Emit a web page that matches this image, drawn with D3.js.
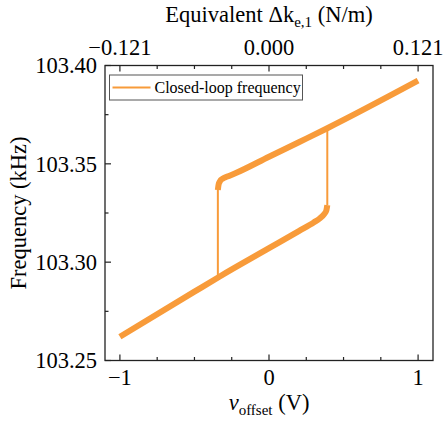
<!DOCTYPE html>
<html>
<head>
<meta charset="utf-8">
<script src="https://cdn.jsdelivr.net/npm/d3@7"></script>
<style>
  body { margin: 0; background: #fff; }
</style>
</head>
<body>
<script>
// sweep data: offset voltage (V) vs closed-loop frequency (kHz)
const lowerV = [-1, -0.5, -0.333, 0, 0.2, 0.3, 0.34, 0.37, 0.385, 0.391];
const lowerF = [103.2621, 103.2850, 103.2926, 103.3071, 103.3158, 103.3202, 103.3222, 103.3244, 103.3264, 103.3290];
const upperV = [-0.343, -0.338, -0.33, -0.31, -0.28, -0.226, 0, 0.2, 0.391, 1];
const upperF = [103.3367, 103.3395, 103.3410, 103.3425, 103.3435, 103.3452, 103.3536, 103.3610, 103.3681, 103.3923];
const jumpDownV = [-0.343, -0.343];
const jumpDownF = [103.3367, 103.2922];
const jumpUpV = [0.391, 0.391];
const jumpUpF = [103.3290, 103.3681];

const xTicks = [-1, 0, 1];
const yTicks = [103.25, 103.30, 103.35, 103.40];
const topTickLabels = ['\u22120.121', '0.000', '0.121'];
const seriesName = 'Closed-loop frequency';

const W = 443, H = 422;
const m = {left: 105, right: 10, top: 65.5, bottom: 61.5};
const color = '#f89b3a';
const serif = "'Liberation Serif', serif";
const fs = 22.5;

const svg = d3.select('body').append('svg')
  .attr('width', W).attr('height', H);

const x = d3.scaleLinear().domain([-1.1, 1.1]).range([m.left, W - m.right]);
const y = d3.scaleLinear().domain([103.25, 103.40]).range([H - m.bottom, m.top]);

const minorX = d3.range(-1, 1.001, 0.25);
const minorY = d3.range(103.25, 103.4001, 0.025);

const fmtY = d3.format('.2f');
const fmtX = v => v < 0 ? '\u2212' + Math.abs(v) : String(v);

const label = (sel, size) => sel.style('font-family', serif).attr('font-size', size).attr('fill', '#000');

// shift start-anchored text by its measured width (instead of text-anchor)
const align = (sel, how) => sel.each(function() {
  const w = this.getComputedTextLength();
  const x0 = +this.getAttribute('x');
  this.setAttribute('x', how === 'middle' ? x0 - w / 2 : x0 - w);
});

// frame
svg.append('rect')
  .attr('x', x.range()[0]).attr('y', y.range()[1])
  .attr('width', x.range()[1] - x.range()[0])
  .attr('height', y.range()[0] - y.range()[1])
  .attr('fill', 'none').attr('stroke', '#222').attr('stroke-width', 1.3);

const tickG = svg.append('g').attr('stroke', '#222').attr('stroke-width', 1.2);

// bottom + top ticks (inward)
minorX.forEach(v => {
  const major = xTicks.includes(+v.toFixed(2));
  const len = major ? 6 : 3.5;
  tickG.append('line').attr('x1', x(v)).attr('x2', x(v))
    .attr('y1', y.range()[0]).attr('y2', y.range()[0] - len);
  tickG.append('line').attr('x1', x(v)).attr('x2', x(v))
    .attr('y1', y.range()[1]).attr('y2', y.range()[1] + len);
});

// left ticks (inward)
minorY.forEach(v => {
  const major = yTicks.some(t => Math.abs(t - v) < 1e-6);
  const len = major ? 6 : 3.5;
  tickG.append('line').attr('x1', x.range()[0]).attr('x2', x.range()[0] + len)
    .attr('y1', y(v)).attr('y2', y(v));
});

// tick labels
svg.append('g').selectAll('text').data(xTicks).enter().append('text')
  .call(label, fs)
  .attr('x', d => x(d)).attr('y', H - m.bottom + 24)
  .text(fmtX)
  .call(align, 'middle');

svg.append('g').selectAll('text').data(xTicks).enter().append('text')
  .call(label, fs)
  .attr('x', d => x(d)).attr('y', m.top - 10.5)
  .text((d, i) => topTickLabels[i])
  .call(align, 'middle');

svg.append('g').selectAll('text').data(yTicks).enter().append('text')
  .call(label, fs)
  .attr('x', m.left - 8).attr('y', d => y(d)).attr('dy', '0.35em')
  .text(fmtY)
  .call(align, 'end');

// axis titles
const cx = (x.range()[0] + x.range()[1]) / 2;
const cy = (y.range()[0] + y.range()[1]) / 2;

const xt = svg.append('text').call(label, fs).attr('x', cx).attr('y', 410);
xt.append('tspan').attr('font-style', 'italic').text('v');
xt.append('tspan').attr('font-size', 15).attr('dy', 5).text('offset');
xt.append('tspan').attr('dy', -5).text(' (V)');
xt.call(align, 'middle');

const tt = svg.append('text').call(label, fs).attr('x', cx).attr('y', 22);
tt.append('tspan').text('Equivalent \u0394k');
tt.append('tspan').attr('font-size', 15).attr('dy', 5).text('e,1');
tt.append('tspan').attr('dy', -5).text(' (N/m)');
tt.call(align, 'middle');

svg.append('text').call(label, fs)
  .attr('transform', `translate(26,${cy}) rotate(-90)`)
  .attr('x', 0).attr('y', 0)
  .text('Frequency (kHz)')
  .call(align, 'middle');

// curves
const zip = (vs, fv) => vs.map((v, i) => [v, fv[i]]);
const branch = d3.line().x(d => x(d[0])).y(d => y(d[1])).curve(d3.curveMonotoneX);
const straight = d3.line().x(d => x(d[0])).y(d => y(d[1]));

const plotG = svg.append('g').attr('fill', 'none').attr('stroke', color)
  .attr('stroke-linejoin', 'round');

plotG.append('path').attr('d', straight(zip(jumpDownV, jumpDownF))).attr('stroke-width', 2);
plotG.append('path').attr('d', straight(zip(jumpUpV, jumpUpF))).attr('stroke-width', 2);
plotG.append('path').attr('d', branch(zip(lowerV, lowerF))).attr('stroke-width', 6);
plotG.append('path').attr('d', branch(zip(upperV, upperF))).attr('stroke-width', 6);

// legend
const lg = svg.append('g').attr('transform', 'translate(109.5,75)');
lg.append('rect').attr('width', 193).attr('height', 25)
  .attr('fill', '#fff').attr('stroke', '#555').attr('stroke-width', 1);
lg.append('line').attr('x1', 3).attr('x2', 41).attr('y1', 12.5).attr('y2', 12.5)
  .attr('stroke', color).attr('stroke-width', 2);
lg.append('text').call(label, 16).attr('x', 45).attr('y', 12.5).attr('dy', '0.35em')
  .text(seriesName);
</script>
</body>
</html>
